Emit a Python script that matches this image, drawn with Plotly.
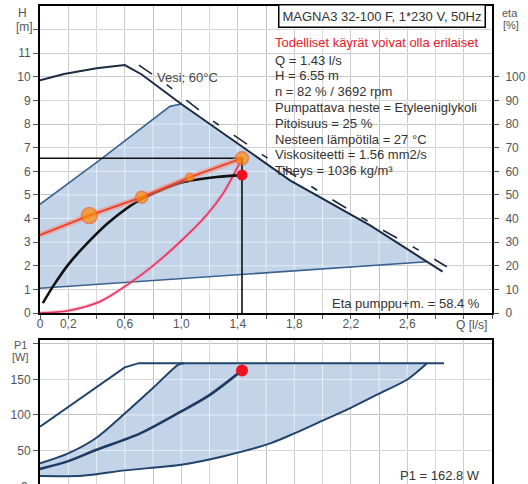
import plotly.graph_objects as go

# ---------------- data ----------------
q_ticks = [0, 0.2, 0.4, 0.6, 0.8, 1.0, 1.2, 1.4, 1.6, 1.8, 2.0, 2.2, 2.4, 2.6, 2.8, 3.0, 3.2]
q_tick_labels = ["0", "0,2", "", "0,6", "", "1,0", "", "1,4", "", "1,8", "", "2,2", "", "2,6", "", "", ""]
h_ticks = list(range(0, 13))
h_tick_labels = [str(v) for v in range(0, 12)] + [""]
eta_ticks = list(range(0, 101, 10))
p_ticks = [0, 50, 100, 150, 200]
p_tick_labels = ["0", "50", "100", "150", ""]

# H chart: max curve (solid), water 60 C (dashed), area limits
max_Q = [0, 0.17, 0.4, 0.6, 0.72, 1.0, 1.43, 1.77, 2.34, 2.85]
max_H = [9.85, 10.12, 10.36, 10.5, 10.1, 8.85, 7.05, 5.62, 3.7, 1.75]
water_Q = [0.7, 0.88, 1.22, 1.6, 2.0, 2.4, 2.7, 2.88]
water_H = [10.5, 9.75, 8.15, 6.6, 5.05, 3.6, 2.6, 1.96]
upper_Q = [0, 0.42, 0.92, 1.0]
upper_H = [4.6, 6.46, 8.75, 8.85]
lower_Q = [0, 0.6, 1.2, 1.8, 2.34, 2.74]
lower_H = [1.05, 1.3, 1.55, 1.8, 2.0, 2.17]

# system curve, pump curve at 82 %, efficiency curve
sys_Q = [0, 0.2, 0.43, 0.62, 0.8, 0.99, 1.18, 1.3, 1.43]
sys_H = [0, 0.1, 0.5, 1.2, 2.0, 3.0, 4.15, 5.1, 6.55]
pump_Q = [0, 0.35, 0.72, 1.06, 1.43]
pump_H = [3.3, 4.13, 4.9, 5.75, 6.55]
pump_marker_size = [0, 16, 12, 8, 13]
eta_Q = [0.02, 0.1, 0.2, 0.31, 0.49, 0.71, 0.99, 1.25, 1.43]
eta_pct = [4.2, 12, 20.5, 28, 38.5, 48, 55, 57.6, 58.4]

op_Q = 1.43
op_H = 6.55
op_eta = 58.4
op_P1 = 162.8

# P1 chart
pmax_Q = [0, 0.31, 0.6, 0.7, 2.86]
pmax_W = [83.5, 126, 167, 173, 173]
pup_Q = [0, 0.2, 0.4, 0.6, 0.8, 0.98, 1.02]
pup_W = [32, 46, 68, 102, 138, 171, 173]
pop_Q = [0, 0.2, 0.4, 0.71, 1.0, 1.2, 1.43]
pop_W = [24, 35, 51, 74, 105, 128, 162.8]
plow_Q = [0, 0.3, 0.6, 1.0, 1.3, 1.63, 1.8, 2.0, 2.2, 2.4, 2.6, 2.74]
plow_W = [14, 14.5, 22, 30, 42, 60, 74, 92, 110, 130, 150, 173]

info_lines = [
    "Q = 1.43 l/s",
    "H = 6.55 m",
    "n = 82 % / 3692 rpm",
    "Pumpattava neste = Etyleeniglykoli",
    "Pitoisuus = 25 %",
    "Nesteen lämpötila = 27 °C",
    "Viskositeetti = 1.56 mm2/s",
    "Tiheys = 1036 kg/m³",
]

# ---------------- layout geometry ----------------
W_FIG, H_FIG = 528, 484
ML, MR, MT, MB = 40, 36, 6, 0
PW, PH = W_FIG - ML - MR, H_FIG - MT - MB


def P(xpx, ypx):
    return (xpx - ML) / PW, (H_FIG - MB - ypx) / PH


top_dom = [P(0, 313)[1], 1.0]
bot_dom = [0.0, P(0, 340)[1]]
Q_RANGE = [0, 3.2]
H_RANGE = [0, 13]
W_RANGE = [2.8, 205.6]

FONT = "Liberation Sans, Arial, sans-serif"
NAVY = "#1c2b42"
BLUE = "#3a6290"
PNAVY = "#22436a"
FILL = "#c3d4e9"

fig = go.Figure()


def add(tr, bottom=False):
    if bottom:
        tr.update(xaxis="x2", yaxis="y2")
    tr.update(hoverinfo="skip", showlegend=False)
    fig.add_trace(tr)


# ---- top chart: shaded area ----
poly_q = list(upper_Q) + [q for q in max_Q if upper_Q[-1] < q < lower_Q[-1]] + list(reversed(lower_Q))
poly_h = list(upper_H) + [h for q, h in zip(max_Q, max_H) if upper_Q[-1] < q < lower_Q[-1]] + list(reversed(lower_H))
add(go.Scatter(x=poly_q, y=poly_h, fill="toself", fillcolor=FILL, mode="lines", line=dict(width=0)))

# ---- bottom chart: shaded area ----
ppoly_q = list(pup_Q) + [plow_Q[-1]] + list(reversed(plow_Q))
ppoly_w = list(pup_W) + [plow_W[-1]] + list(reversed(plow_W))
add(go.Scatter(x=ppoly_q, y=ppoly_w, fill="toself", fillcolor=FILL, mode="lines", line=dict(width=0)), bottom=True)

# ---- light grid drawn over the shading ----
GRID_OVER = "rgba(255,255,255,0.55)"
gx, gy = [], []
for q in q_ticks[1:-1]:
    gx += [q, q, None]
    gy += [H_RANGE[0], H_RANGE[1], None]
for h in h_ticks[1:]:
    gx += [Q_RANGE[0], Q_RANGE[1], None]
    gy += [h, h, None]
add(go.Scatter(x=gx, y=gy, mode="lines", line=dict(color=GRID_OVER, width=1)))
gx, gy = [], []
for q in q_ticks[1:-1]:
    gx += [q, q, None]
    gy += [W_RANGE[0], W_RANGE[1], None]
for w in p_ticks[1:]:
    gx += [Q_RANGE[0], Q_RANGE[1], None]
    gy += [w, w, None]
add(go.Scatter(x=gx, y=gy, mode="lines", line=dict(color=GRID_OVER, width=1)), bottom=True)

# ---- top chart curves ----
add(go.Scatter(x=lower_Q, y=lower_H, mode="lines", line=dict(color=BLUE, width=1.6)))
add(go.Scatter(x=upper_Q, y=upper_H, mode="lines", line=dict(color=BLUE, width=1.6)))
add(go.Scatter(x=max_Q, y=max_H, mode="lines", line=dict(color=NAVY, width=2)))
add(go.Scatter(x=water_Q, y=water_H, mode="lines",
               line=dict(color=NAVY, width=1.6, dash="16px,18px,7px,18px")))
add(go.Scatter(x=sys_Q, y=sys_H, mode="lines",
               line=dict(color="rgba(240,130,160,0.4)", width=4, shape="spline", smoothing=0.8)))
add(go.Scatter(x=sys_Q, y=sys_H, mode="lines",
               line=dict(color="#e6305c", width=1.5, shape="spline", smoothing=0.8)))
# operating point cross lines
add(go.Scatter(x=[0, op_Q, op_Q], y=[op_H, op_H, 0], mode="lines", line=dict(color="#111111", width=1.6)))
# efficiency curve (eta axis = H axis x 10)
add(go.Scatter(x=eta_Q, y=[e / 10 for e in eta_pct], mode="lines",
               line=dict(color="#111111", width=2.6, shape="spline", smoothing=0.8)))
# pump curve at operating speed
add(go.Scatter(x=pump_Q, y=pump_H, mode="lines", line=dict(color="rgba(246,140,125,0.5)", width=6)))
add(go.Scatter(x=pump_Q, y=pump_H, mode="lines", line=dict(color="#ec4630", width=2)))
add(go.Scatter(x=pump_Q, y=pump_H, mode="markers",
               marker=dict(size=pump_marker_size, color="#ff8c00", line=dict(color="#f0602a", width=1.5))))
add(go.Scatter(x=[op_Q], y=[op_eta / 10], mode="markers",
               marker=dict(size=11, color="#ee1122", line=dict(width=0))))
# eta axis carrier (invisible)
fig.add_trace(go.Scatter(x=[0], y=[0], xaxis="x", yaxis="y3", mode="markers",
                         marker=dict(opacity=0), hoverinfo="skip", showlegend=False))

# ---- bottom chart curves ----
add(go.Scatter(x=pmax_Q, y=pmax_W, mode="lines", line=dict(color=PNAVY, width=2)), bottom=True)
add(go.Scatter(x=pup_Q, y=pup_W, mode="lines", line=dict(color=PNAVY, width=2, shape="spline", smoothing=0.8)),
    bottom=True)
add(go.Scatter(x=plow_Q, y=plow_W, mode="lines", line=dict(color=PNAVY, width=2, shape="spline", smoothing=0.8)),
    bottom=True)
add(go.Scatter(x=pop_Q, y=pop_W, mode="lines",
               line=dict(color="#1d3b60", width=2.6, shape="spline", smoothing=0.8)), bottom=True)
add(go.Scatter(x=[op_Q], y=[op_P1], mode="markers", marker=dict(size=12, color="#ee1122", line=dict(width=0))),
    bottom=True)

# ---------------- axes ----------------
tickfont = dict(family=FONT, size=12, color="#555555")
GRID = "#a9a9a9"
common_x = dict(range=Q_RANGE, tickvals=q_ticks, showgrid=True, gridcolor=GRID, gridwidth=1,
                zeroline=False, showline=True, linecolor="black", linewidth=2, tickfont=tickfont,
                automargin=False)
fig.update_layout(
    width=W_FIG, height=H_FIG,
    margin=dict(l=ML, r=MR, t=MT, b=MB, pad=0, autoexpand=False),
    paper_bgcolor="white", plot_bgcolor="white",
    showlegend=False,
    font=dict(family=FONT, size=12, color="#333333"),
    xaxis=dict(common_x, domain=[0, 1], anchor="y", ticktext=q_tick_labels, ticks="outside",
               ticklen=4, tickcolor="#555555", mirror=True, ticklabelstandoff=-5),
    yaxis=dict(domain=top_dom, anchor="x", range=H_RANGE, tickvals=h_ticks, ticktext=h_tick_labels,
               showgrid=True, gridcolor=GRID, zeroline=False, showline=True, linecolor="black",
               linewidth=2, mirror=True, ticks="outside", ticklen=5, tickcolor="#555555",
               tickfont=tickfont, automargin=False),
    yaxis3=dict(overlaying="y", side="right", anchor="x", range=[0, 130], tickvals=eta_ticks,
                showgrid=False, zeroline=False, showline=False, ticks="outside", ticklen=6,
                tickcolor="#555555", tickfont=tickfont, automargin=False, ticklabelstandoff=4),
    xaxis2=dict(common_x, domain=[0, 1], anchor="y2", side="top", showticklabels=False, ticks=""),
    yaxis2=dict(domain=bot_dom, anchor="x2", range=W_RANGE, tickvals=p_ticks, ticktext=p_tick_labels,
                showgrid=True, gridcolor=GRID, zeroline=False, showline=True, linecolor="black",
                linewidth=2, mirror=True, ticks="outside", ticklen=5, tickcolor="#555555",
                tickfont=tickfont, automargin=False),
)

# ---------------- boxes ----------------
def rect(x0, y0, x1, y1):
    a = P(x0, y1)
    b = P(x1, y0)
    fig.add_shape(type="rect", xref="paper", yref="paper", x0=a[0], y0=a[1], x1=b[0], y1=b[1],
                  fillcolor="white", line=dict(width=0), layer="between")


rect(270, 6, 491, 178)
rect(325, 293, 491, 312)
rect(390, 463, 491, 484)

# ---------------- texts ----------------
def text(xpx, ypx, s, size=13, color="#333333", anchor="left", **kw):
    x, y = P(xpx, ypx)
    fig.add_annotation(xref="paper", yref="paper", x=x, y=y, text=s, showarrow=False,
                       xanchor=anchor, yanchor="middle", font=dict(family=FONT, size=size, color=color), **kw)


title_x, title_y = P(381.5, 16.5)
fig.add_annotation(xref="paper", yref="paper", x=title_x, y=title_y,
                   text="MAGNA3 32-100 F, 1*230 V, 50Hz", showarrow=False,
                   xanchor="center", yanchor="middle", bgcolor="white", bordercolor="black",
                   borderwidth=1.5, borderpad=3, font=dict(family=FONT, size=13, color="#333333"))

text(273, 43, "Todelliset käyrät voivat olla erilaiset", color="#e8202a")
for i, s in enumerate(info_lines):
    text(273, 60 + i * 15.8, s)

text(482, 303, "Eta pumppu+m. = %.1f %%" % op_eta, anchor="right")
text(482, 475, "P1 = %.1f W" % op_P1, anchor="right")
text(155, 78, "Vesi; 60°C", color="#444444")

lbl = dict(size=12, color="#555555", anchor="center")
text(22, 13, "H", **lbl)
text(24, 27, "[m]", **lbl)
text(500, 13, "eta", size=11, color="#555555", anchor="left")
text(501, 25, "[%]", size=11, color="#555555", anchor="left")
text(20, 345, "P1", size=11, color="#555555", anchor="center")
text(20, 357, "[W]", size=11, color="#555555", anchor="center")
text(471, 325, "Q [l/s]", **lbl)
text(30, 487, "0", size=12, color="#555555", anchor="right")

fig.write_html("out.html", config={"displayModeBar": False},
               post_script="document.body.style.margin='0';document.body.style.overflow='hidden';")
